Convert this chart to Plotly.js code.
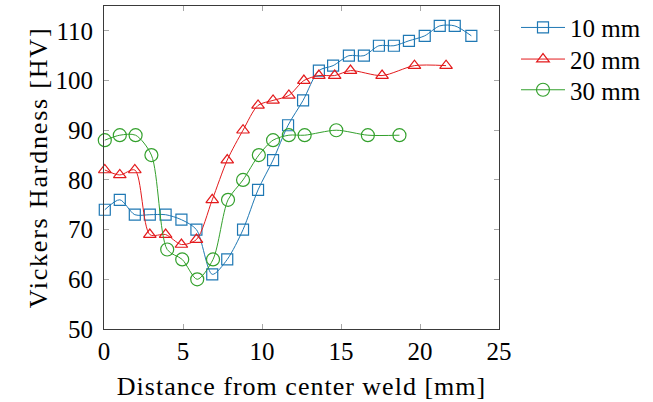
<!DOCTYPE html>
<html>
<head>
<meta charset="utf-8">
<script src="https://cdn.plot.ly/plotly-3.0.1.min.js"></script>
<style>html,body{margin:0;padding:0;background:#fff;}#chart{width:653px;height:402px;}
.xtitle{letter-spacing:1px;}
.ytitle{letter-spacing:1.8px;}
</style>
</head>
<body>
<div id="chart"></div>
<script>
const seriesNames = ["10 mm", "20 mm", "30 mm"];
const x10 = [0.05, 1.0, 1.95, 2.9, 3.9, 4.9, 5.85, 6.85, 7.8, 8.8, 9.75, 10.7, 11.65, 12.6, 13.6, 14.5, 15.5, 16.45, 17.4, 18.35, 19.3, 20.3, 21.25, 22.2, 23.25];
const y10 = [74, 76, 73, 73, 73, 72, 70, 61, 64, 70, 78, 84, 91, 96, 102, 103, 105, 105, 107, 107, 108, 109, 111, 111, 109];
const x20 = [0.05, 1.0, 1.95, 2.9, 3.9, 4.9, 5.85, 6.85, 7.8, 8.8, 9.75, 10.7, 11.7, 12.65, 13.6, 14.6, 15.6, 17.6, 19.65, 21.65];
const y20 = [82, 81, 82, 69, 69, 67, 68, 76, 84, 90, 95, 96, 97, 100, 101, 101, 102, 101, 103, 103];
const x30 = [0.05, 1.0, 2.0, 3.0, 4.0, 4.95, 5.9, 6.9, 7.85, 8.8, 9.8, 10.7, 11.7, 12.7, 14.7, 16.7, 18.7];
const y30 = [88, 89, 89, 85, 66, 64, 60, 64, 76, 80, 85, 88, 89, 89, 90, 89, 89];
const xTicks = [0, 5, 10, 15, 20, 25];
const yTicks = [50, 60, 70, 80, 90, 100, 110];

const colors = ["#1f78b4", "#e31a1c", "#33a02c"];
const symbols = ["square-open", "triangle-up-open", "circle-open"];
const sizes = [11, 11, 13];
const xs = [x10, x20, x30];
const ys = [y10, y20, y30];
const legendIds = ["legend", "legend2", "legend3"];
const legendY = [27.7, 59.3, 90];

const data = seriesNames.map((n, i) => ({
  type: "scatter",
  mode: "lines+markers",
  name: n,
  legend: legendIds[i],
  x: xs[i],
  y: ys[i],
  cliponaxis: false,
  line: {color: colors[i], width: 1, shape: "spline", smoothing: 0.8},
  marker: {symbol: symbols[i], size: sizes[i], color: colors[i], line: {color: colors[i], width: 1.2}}
}));

const fam = "'Liberation Serif', 'DejaVu Serif', serif";
const font = {family: fam, size: 25, color: "#000"};

const layout = {
  width: 653, height: 402,
  margin: {l: 103.5, r: 153.7, t: 5.8, b: 72.7, pad: 0},
  paper_bgcolor: "#fff", plot_bgcolor: "#fff",
  font: font,
  showlegend: true,
  xaxis: {
    range: [0, 25], tickvals: xTicks, ticktext: xTicks.map(String),
    ticks: "inside", ticklen: 5, tickcolor: "#a8a8a8", tickwidth: 1,
    showline: true, linecolor: "#3a3a3a", linewidth: 1, mirror: "ticks",
    showgrid: false, zeroline: false, ticklabelstandoff: 0,
    tickfont: {family: fam, size: 25, color: "#000"},
    title: {text: "Distance from center weld [mm]", font: {family: fam, size: 26, color: "#000"}, standoff: 12}
  },
  yaxis: {
    range: [50, 115], tickvals: yTicks, ticktext: yTicks.map(String),
    ticks: "inside", ticklen: 5, tickcolor: "#a8a8a8", tickwidth: 1,
    showline: true, linecolor: "#3a3a3a", linewidth: 1, mirror: "ticks",
    showgrid: false, zeroline: false, ticklabelstandoff: 5,
    tickfont: {family: fam, size: 25, color: "#000"},
    title: {text: "Vickers Hardness [HV]", font: {family: fam, size: 26, color: "#000"}, standoff: 0}
  }
};

legendIds.forEach((id, i) => {
  layout[id] = {
    xref: "container", yref: "container",
    x: 516 / 653, xanchor: "left",
    y: 1 - legendY[i] / 402, yanchor: "middle",
    bgcolor: "rgba(0,0,0,0)", borderwidth: 0,
    font: {family: fam, size: 25, color: "#000"},
    itemwidth: 44
  };
});

Plotly.newPlot("chart", data, layout, {displayModeBar: false, staticPlot: true});
</script>
</body>
</html>
